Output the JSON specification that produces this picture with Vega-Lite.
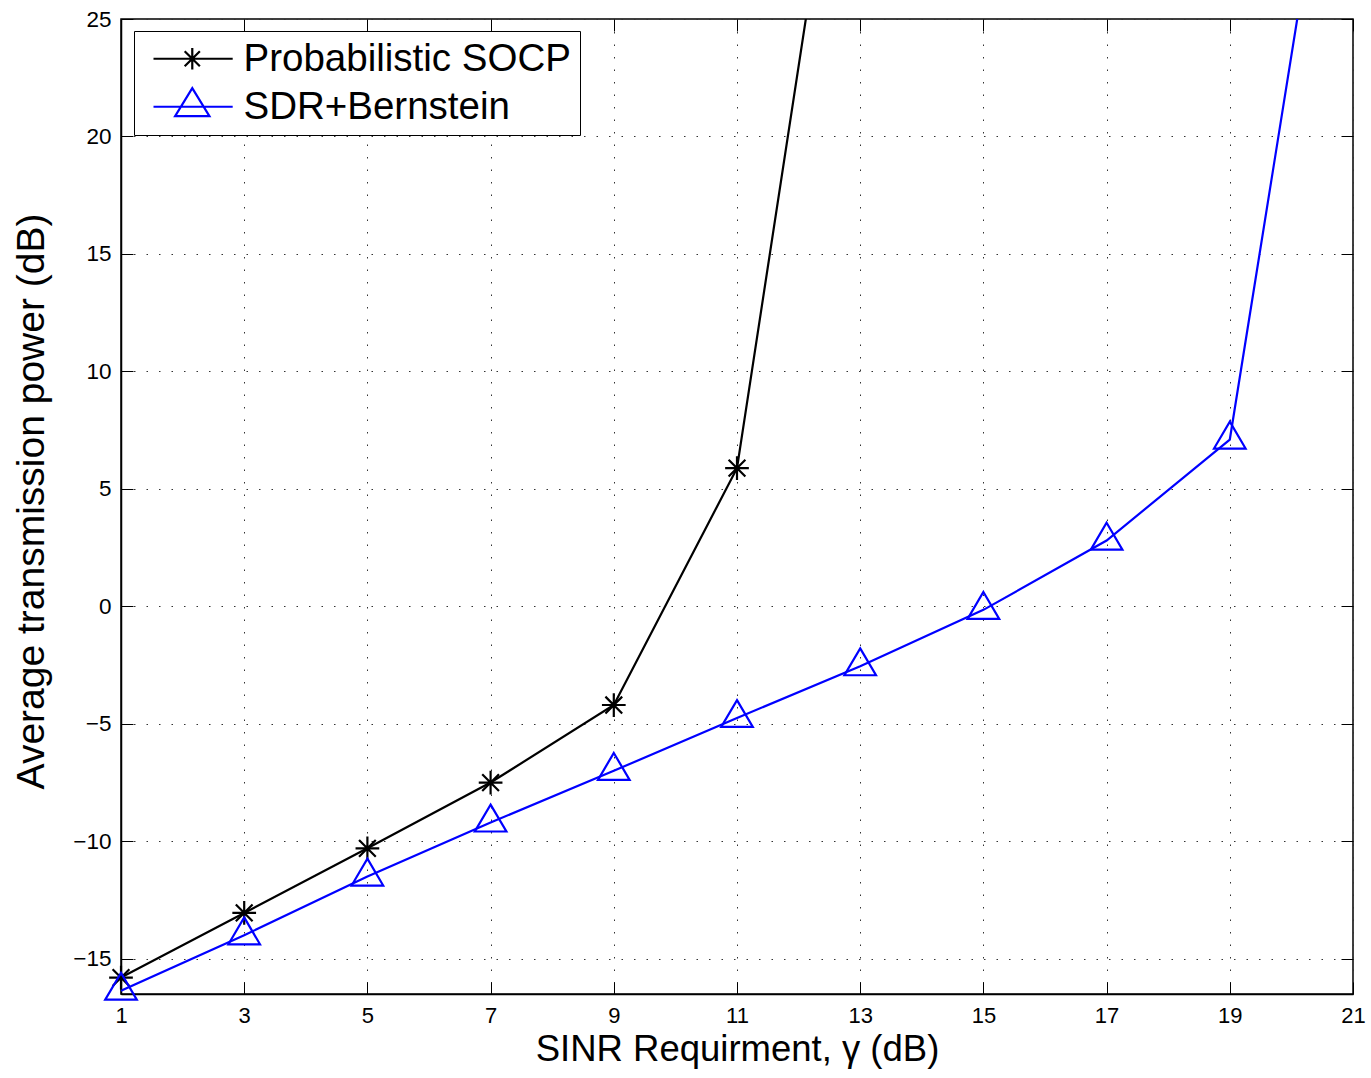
{
  "$schema": "https://vega.github.io/schema/vega-lite/v6.json",
  "width": 1232,
  "height": 975,
  "autosize": "none",
  "padding": {"left": 121, "top": 19, "right": 18, "bottom": 84},
  "background": "white",
  "config": {
    "view": {"stroke": "black", "strokeWidth": 1.5},
    "font": "Liberation Sans",
    "axis": {
      "labelFont": "Liberation Sans",
      "titleFont": "Liberation Sans",
      "labelColor": "black",
      "titleColor": "black",
      "titleFontWeight": "normal",
      "domainColor": "black",
      "tickColor": "black"
    }
  },
  "data": {
    "values": [
      {"series": "Probabilistic SOCP", "gamma": 1, "power": -15.8},
      {"series": "Probabilistic SOCP", "gamma": 3, "power": -13.05},
      {"series": "Probabilistic SOCP", "gamma": 5, "power": -10.3},
      {"series": "Probabilistic SOCP", "gamma": 7, "power": -7.5},
      {"series": "Probabilistic SOCP", "gamma": 9, "power": -4.2},
      {"series": "Probabilistic SOCP", "gamma": 11, "power": 5.88},
      {"series": "Probabilistic SOCP", "gamma": 13, "power": 40.1},
      {"series": "SDR+Bernstein", "gamma": 1, "power": -16.36},
      {"series": "SDR+Bernstein", "gamma": 3, "power": -14.0},
      {"series": "SDR+Bernstein", "gamma": 5, "power": -11.5},
      {"series": "SDR+Bernstein", "gamma": 7, "power": -9.2},
      {"series": "SDR+Bernstein", "gamma": 9, "power": -7.0},
      {"series": "SDR+Bernstein", "gamma": 11, "power": -4.75},
      {"series": "SDR+Bernstein", "gamma": 13, "power": -2.55},
      {"series": "SDR+Bernstein", "gamma": 15, "power": -0.15},
      {"series": "SDR+Bernstein", "gamma": 17, "power": 2.8},
      {"series": "SDR+Bernstein", "gamma": 19, "power": 7.1},
      {"series": "SDR+Bernstein", "gamma": 21, "power": 39.8}
    ]
  },
  "layer": [
    {
      "mark": {"type": "line", "clip": true, "strokeWidth": 2.2},
      "encoding": {
        "x": {
          "field": "gamma", "type": "quantitative",
          "scale": {"domain": [1, 21], "nice": false, "zero": false},
          "axis": {
            "orient": "bottom",
            "values": [1, 3, 5, 7, 9, 11, 13, 15, 17, 19, 21],
            "title": "SINR Requirment, γ (dB)",
            "titleFontSize": 36.5,
            "titleBaseline": "alphabetic",
            "titleY": 66,
            "labelFontSize": 22,
            "labelBaseline": "alphabetic",
            "labelPadding": 40,
            "tickSize": -12,
            "domainWidth": 1.5,
            "grid": true,
            "gridColor": "#333333",
            "gridDash": [1.5, 11],
            "gridWidth": 1,
            "labelFlush": false
          }
        },
        "y": {
          "field": "power", "type": "quantitative",
          "scale": {"domain": [-16.5, 25], "nice": false, "zero": false},
          "axis": {
            "orient": "left",
            "values": [-15, -10, -5, 0, 5, 10, 15, 20, 25],
            "title": "Average transmission power (dB)",
            "titleFontSize": 39,
            "titleBaseline": "alphabetic",
            "titleX": -78,
            "titleY": 482,
            "titleAngle": -90,
            "labelFontSize": 22.5,
            "labelPadding": 22,
            "tickSize": -12,
            "domainWidth": 1.5,
            "grid": true,
            "gridColor": "#333333",
            "gridDash": [1.5, 11],
            "gridWidth": 1,
            "labelFlush": false
          }
        },
        "color": {
          "field": "series", "type": "nominal",
          "scale": {"domain": ["Probabilistic SOCP", "SDR+Bernstein"], "range": ["#000000", "#0000ff"]},
          "legend": {
            "title": null,
            "orient": "none",
            "legendX": 13,
            "legendY": 12,
            "padding": 8.5,
            "fillColor": "white",
            "strokeColor": "black",
            "labelFont": "Liberation Sans",
            "labelFontSize": 38.5,
            "labelColor": "black",
            "labelLimit": 600,
            "labelOffset": 62.5,
            "symbolSize": 1089,
            "symbolStrokeWidth": 2,
            "rowPadding": 5,
            "encode": {
              "symbols": {
                "update": {
                  "shape": {"signal": "datum.value === 'Probabilistic SOCP' ? 'M-0.5,0H4.3M1.15,0H2.55M1.85,-0.65V0.65M1.39,-0.46L2.31,0.46M1.39,0.46L2.31,-0.46' : 'M-0.5,0H4.3M1.85,-1.13L2.89,0.57L0.81,0.57Z'"},
                  "fill": {"value": "transparent"},
                  "strokeWidth": {"value": 2.2}
                }
              }
            }
          }
        }
      }
    },
    {
      "transform": [{"filter": "datum.series === 'Probabilistic SOCP' && datum.power <= 25"}],
      "mark": {"type": "point", "filled": false, "strokeWidth": 2.2, "size": 1000, "opacity": 1, "color": "#000000",
               "shape": "M-0.75,0H0.75M0,-0.75V0.75M-0.53,-0.53L0.53,0.53M-0.53,0.53L0.53,-0.53"},
      "encoding": {
        "x": {
          "field": "gamma", "type": "quantitative",
          "axis": {"orient": "top", "labels": false, "title": null, "tickSize": -12, "domain": false, "grid": false, "values": [1, 3, 5, 7, 9, 11, 13, 15, 17, 19, 21]}
        },
        "y": {
          "field": "power", "type": "quantitative",
          "axis": {"orient": "right", "labels": false, "title": null, "tickSize": -12, "domain": false, "grid": false, "values": [-15, -10, -5, 0, 5, 10, 15, 20, 25]}
        }
      }
    },
    {
      "transform": [{"filter": "datum.series === 'SDR+Bernstein' && datum.power <= 25"}],
      "mark": {"type": "point", "filled": false, "strokeWidth": 2.2, "size": 1000, "opacity": 1, "color": "#0000ff",
               "shape": "M0,-1.13L1,0.57L-1,0.57Z"},
      "encoding": {
        "x": {"field": "gamma", "type": "quantitative", "axis": null},
        "y": {"field": "power", "type": "quantitative", "axis": null}
      }
    }
  ],
  "resolve": {"axis": {"x": "independent", "y": "independent"}}
}
